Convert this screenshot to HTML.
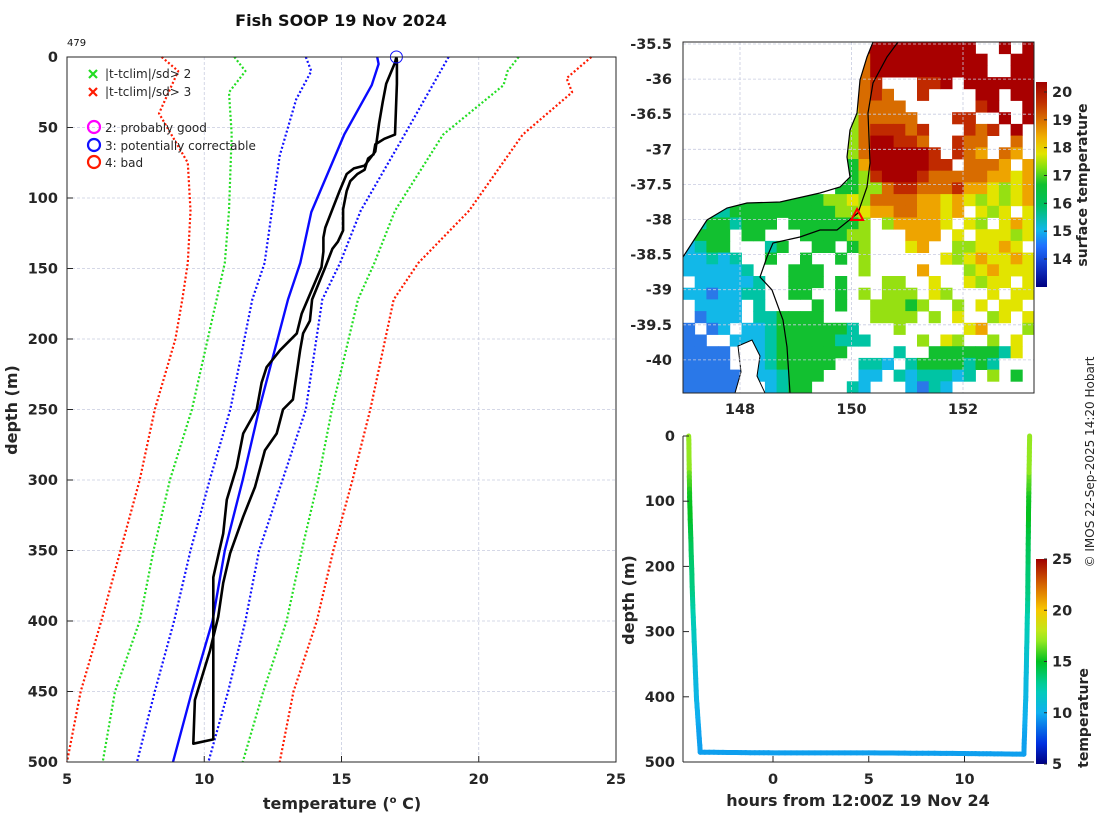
<!DOCTYPE html>
<html><head><meta charset="utf-8"><title>Fish SOOP 19 Nov 2024</title>
<style>
html,body{margin:0;padding:0;background:#fff;}
svg{display:block;font-family:"DejaVu Sans","Liberation Sans",sans-serif;}
.tk{font-size:14.5px;font-weight:bold;fill:#262626;}
.lab{font-size:16px;font-weight:bold;fill:#262626;}
.leg{font-size:12px;fill:#262626;}
</style></head>
<body>
<svg id="fig" width="1100" height="820" viewBox="0 0 1100 820">
<text x="341" y="26" text-anchor="middle" style="font-size:16px;font-weight:bold;fill:#111">Fish SOOP 19 Nov 2024</text>
<text x="67" y="46" style="font-size:10px;fill:#111">479</text>
<g id="main"></g>
<g id="map"></g>
<g id="track"></g>
<text transform="translate(1094,462) rotate(-90)" text-anchor="middle" style="font-size:12px;fill:#262626">© IMOS 22-Sep-2025 14:20 Hobart</text>
</svg>
<script>
// ---------- Profile data ----------
const climDepth = [0,5,20,55,110,146,172,250,300,350,400,450,500];
const climMean  = [16.3,16.35,16.1,15.1,13.9,13.5,13.05,12.0,11.4,10.75,10.3,9.55,8.86];
const sd1LoDepth = [0,10,30,70,146,172,250,300,350,400,450,500];
const sd1LoTemp  = [13.7,13.9,13.35,12.75,12.2,11.75,10.95,10.2,9.5,8.9,8.2,7.55];
const sd1HiDepth = [0,55,109,146,172,250,300,350,400,450,500];
const sd1HiTemp  = [18.9,17.3,15.7,14.95,14.3,13.7,12.85,12.0,11.5,10.87,10.15];
const sd2LoDepth = [0,10,25,55,109,146,172,250,300,350,400,450,500];
const sd2LoTemp  = [11.1,11.5,10.9,11.0,10.9,10.75,10.45,9.55,8.75,8.15,7.65,6.75,6.3];
const sd2HiDepth = [0,10,20,55,109,146,172,250,300,350,400,450,500];
const sd2HiTemp  = [21.45,21.05,20.9,18.7,16.95,16.2,15.6,14.65,14.15,13.55,13.0,12.15,11.4];
const sd3LoDepth = [0,10,40,75,109,146,172,200,250,300,350,400,450,500];
const sd3LoTemp  = [8.45,9.05,8.35,9.4,9.5,9.4,9.2,8.95,8.2,7.65,6.95,6.25,5.5,5.0];
const sd3HiDepth = [0,15,25,55,109,146,172,250,300,350,400,450,500];
const sd3HiTemp  = [24.1,23.2,23.4,21.6,19.65,17.8,16.9,16.05,15.4,14.7,14.1,13.25,12.75];
const obsADepth = [0,2.5,19,55,58,62,69,72,80,83,88,95,108,123,131,136,149,172,187,196,208,243,250,267,279,305,326,352,373,397,421,444,456,487];
const obsATemp  = [17.0,17.02,17.02,16.95,16.56,16.23,16.17,15.97,15.84,15.58,15.32,15.19,15.06,15.06,14.87,14.67,14.41,13.93,13.85,13.6,13.49,13.23,12.87,12.64,12.21,11.85,11.42,10.94,10.69,10.51,10.21,9.85,9.66,9.6];
const obsBDepth = [0,4,19,32,47,57,67,72,77,79,83,95,108,121,128,138,149,182,196,208,220,231,250,267,291,314,338,369,432,480,484];
const obsBTemp  = [17.0,16.95,16.63,16.5,16.37,16.3,16.23,16.04,15.84,15.45,15.19,14.93,14.67,14.41,14.34,14.34,14.27,13.55,13.37,12.76,12.27,12.09,11.91,11.42,11.18,10.82,10.69,10.33,10.33,10.33,10.33];
const tempTicks = [5,10,15,20,25];
const depthTicks = [0,50,100,150,200,250,300,350,400,450,500];

// ---------- Map data ----------
const mapRows = [
"...............DDDDDDDDDDWWDWD",
"...............ODDDDDDDDDDWWDD",
"..............AODDDDDDDDDDWWDD",
"..............AORWWWRRDWDDDDDD",
"..............AOROWWRWWWWDDWDD",
"..............YOOOOWWWWWWRDWWD",
"..............LOOOOOWWWRRWWDWD",
"..............LORRRORWWWRORWDW",
"..............LODDRROWWROOWWOW",
"..............LODDDDDRWROAWOAW",
"..............GADDDDDRRWOOOAWA",
"..............GLRDDDROOOOOAAYA",
".............GGLLORROOORAAYLYA",
"....GGGGGGGGLLYLOOOOAAYAYLYLYA",
"..TTGGGGGGGGGLLYAAOOAAYAWYLYWY",
".TGGTGGGWGGGGGGLWLAAAAYWYLWYAY",
"TGGGWGGWWWGGGGLLWWWAAAWYWYYYLY",
"CTGGWWWTGWWGGWGLWWWYAWWLLYYAYW",
"CCTCTWWGWWGWWGWLWWWWWWYLYAYYAY",
"CCCCCTWWWGGGWWWLWWWWAWWWLYAYYY",
"WCCCCCTWWGGGWGWWWLLWWYWWYLYYWY",
"CCBCCTTWWGGWWGWLWLLLWYLWWWYWYY",
"WCCCCWTWWWWGWGWWLLLGLWWLWYWYYW",
"WBCCCWTTGGGGWWWWLLLLWLWYWWLYWY",
"BWBCWCCTGGGGGGTWWWLWWWWWYAWWWL",
"BBWWCCCTGGGGGTTTWWWWLWYLWWLWYW",
"BBBB.CCTGGGGGGWWWWTWWGGGGGGTYW",
"BBBB..CTGGGGGWWTTCWTGGGGTGTWWW",
"BBBBB.CCTGGGWWWCCWTCTTTCTWLWGW",
"BBBBB..CTGGWWWTCWWWCBTCWWWWWWW"];
const lonTicks = [148,150,152];
const latTicks = [-35.5,-36,-36.5,-37,-37.5,-38,-38.5,-39,-39.5,-40];
const sstTicks = [20,19,18,17,16,15,14];
const shipLon = 150.1, shipLat = -37.95;

// ---------- Depth-time trace data ----------
const trHours  = [-4.4,-4.35,-4.2,-4.0,-3.8,0,5,10,13.1,13.2,13.3,13.35,13.4];
const trDepths = [0,100,250,400,485,486,486,487,488,400,250,100,0];
const hourTicks = [0,5,10];
const trDepthTicks = [0,100,200,300,400,500];
const cbTicks = [5,10,15,20,25];

const NS="http://www.w3.org/2000/svg";
function mk(parent,tag,attrs,text){const e=document.createElementNS(NS,tag);for(const k in attrs)e.setAttribute(k,attrs[k]);if(text!==undefined)e.textContent=text;parent.appendChild(e);return e;}
const cmStops=[[0,[0,0,128]],[0.1,[0,48,224]],[0.25,[16,176,240]],[0.37,[0,208,176]],[0.5,[0,192,32]],[0.62,[176,240,32]],[0.75,[248,200,0]],[0.87,[216,104,0]],[1,[160,0,0]]];
function cmap(v,lo,hi){let t=(v-lo)/(hi-lo);t=Math.max(0,Math.min(1,t));
for(let i=1;i<cmStops.length;i++){if(t<=cmStops[i][0]){const a=cmStops[i-1],b=cmStops[i];const f=(t-a[0])/(b[0]-a[0]);
const c=a[1].map((x,k)=>Math.round(x+f*(b[1][k]-x)));return `rgb(${c[0]},${c[1]},${c[2]})`;}}return 'rgb(160,0,0)';}

// ===== Main profile axes =====
const M=document.getElementById('main');
const xT=t=>67+(t-5)*27.45, yD=d=>57+d*1.41;
tempTicks.forEach(t=>{if(t>5&&t<25){const l=mk(M,'line',{x1:xT(t),x2:xT(t),y1:57,y2:762,stroke:'#c8cce0','stroke-width':0.8,'stroke-dasharray':'3,2'});

}});
depthTicks.forEach(d=>{if(d>0&&d<500){const l=mk(M,'line',{x1:67,x2:616,y1:yD(d),y2:yD(d),stroke:'#c8cce0','stroke-width':0.8,'stroke-dasharray':'3,2'});

}});
function line(ds,ts,color,dotted,name,w){const pts=ds.map((d,i)=>xT(ts[i]).toFixed(1)+','+yD(d).toFixed(1)).join(' ');
const p=mk(M,'polyline',{points:pts,fill:'none',stroke:color,'stroke-width':w||2.2,'stroke-dasharray':dotted?'2,2.2':'none','stroke-linejoin':'round'});

}
line(sd3LoDepth,sd3LoTemp,'#ff1a00',true,'clim-3sd-lower');
line(sd3HiDepth,sd3HiTemp,'#ff1a00',true,'clim-3sd-upper');
line(sd2LoDepth,sd2LoTemp,'#22dd22',true,'clim-2sd-lower');
line(sd2HiDepth,sd2HiTemp,'#22dd22',true,'clim-2sd-upper');
line(sd1LoDepth,sd1LoTemp,'#1010ff',true,'clim-1sd-lower');
line(sd1HiDepth,sd1HiTemp,'#1010ff',true,'clim-1sd-upper');
line(climDepth,climMean,'#0a0aff',false,'clim-mean',2.4);
{const ptsA=obsADepth.map((d,i)=>xT(obsATemp[i]).toFixed(1)+','+yD(d).toFixed(1));
const ptsB=obsBDepth.map((d,i)=>xT(obsBTemp[i]).toFixed(1)+','+yD(d).toFixed(1)).reverse();
const p=mk(M,'polyline',{points:ptsA.concat(ptsB).join(' '),fill:'none',stroke:'#000','stroke-width':2.6,'stroke-linejoin':'round'});

}
{const c=mk(M,'circle',{cx:xT(obsATemp[0]),cy:yD(0),r:6,fill:'none',stroke:'#1010ff','stroke-width':1});

}
{const b=mk(M,'rect',{x:67,y:57,width:549,height:705,fill:'none',stroke:'#262626','stroke-width':1});

}
tempTicks.forEach(t=>{mk(M,'line',{x1:xT(t),x2:xT(t),y1:762,y2:756,stroke:'#262626'});
const tx=mk(M,'text',{x:xT(t),y:784,'text-anchor':'middle',class:'tk'},String(t));

});
depthTicks.forEach(d=>{mk(M,'line',{x1:67,x2:73,y1:yD(d),y2:yD(d),stroke:'#262626'});
const tx=mk(M,'text',{x:58,y:yD(d)+5,'text-anchor':'end',class:'tk'},String(d));

});
{const t=mk(M,'text',{x:342,y:809,'text-anchor':'middle',class:'lab'});


t.innerHTML='temperature (<tspan dy="-6" font-size="10">o</tspan><tspan dy="6"> C)</tspan>';}
{const t=mk(M,'text',{transform:'translate(17,410) rotate(-90)','text-anchor':'middle',class:'lab'},'depth (m)');

}
// legend
const legG=mk(M,'g',{});


[['#22dd22',74,'|t-tclim|/sd> 2'],['#ff1a00',92,'|t-tclim|/sd> 3']].forEach(([c,y,s])=>{
mk(legG,'path',{d:`M89 ${y-4}l8 8M97 ${y-4}l-8 8`,stroke:c,'stroke-width':2.2});
const t=mk(legG,'text',{x:105,y:y+4,class:'leg'},s);

});
[['#ff00ff',127,'2: probably good'],['#1010ff',145,'3: potentially correctable'],['#ff1a00',162,'4: bad']].forEach(([c,y,s])=>{
mk(legG,'circle',{cx:94,cy:y,r:6,fill:'none',stroke:c,'stroke-width':2.2});
const t=mk(legG,'text',{x:105,y:y+5,class:'leg'},s);

});

// ===== Map =====
const G=document.getElementById('map');
const MX0=683,MX1=1034,MY0=42,MY1=393;
const xL=lon=>740+(lon-148)*55.75, yL=lat=>44+(-35.5-lat)*70.2;
const codeCol={D:'#a80000',R:'#c02a00',O:'#d86c00',A:'#eea400',Y:'#e2e400',L:'#96e012',G:'#12c030',T:'#00c4a4',C:'#12b8e8',B:'#2a78e8'};
const cw=(MX1-MX0)/30, ch=(MY1-MY0)/30;
mapRows.forEach((row,j)=>{for(let i=0;i<row.length;i++){const c=codeCol[row[i]];if(!c)continue;
const r=mk(G,'rect',{x:(MX0+i*cw).toFixed(2),y:(MY0+j*ch).toFixed(2),width:(cw+0.4).toFixed(2),height:(ch+0.4).toFixed(2),fill:c});

}});
{const p=mk(G,'polygon',{points:'873,42 867,57 860,80 857,113 850,130 847,157 850,177 840,187 820,193 780,202 747,203 727,208 707,220 683,257 683,42',fill:'#fff'});

}
{const p=mk(G,'polygon',{points:'738,346 752,340 760,356 757,376 765,393 735,393 741,372',fill:'#fff',stroke:'#000','stroke-width':1});

}
lonTicks.forEach(l=>{mk(G,'line',{x1:xL(l),x2:xL(l),y1:MY0,y2:MY1,stroke:'#c8cce0','stroke-width':0.8,'stroke-dasharray':'3,2'});
const t=mk(G,'text',{x:xL(l),y:414,'text-anchor':'middle',class:'tk'},String(l));

});
latTicks.forEach(l=>{mk(G,'line',{x1:MX0,x2:MX1,y1:yL(l),y2:yL(l),stroke:'#c8cce0','stroke-width':0.8,'stroke-dasharray':'3,2'});
const t=mk(G,'text',{x:672,y:yL(l)+5,'text-anchor':'end',class:'tk'},String(l));

});
{const p=mk(G,'polyline',{points:'873,42 867,57 860,80 857,113 850,130 847,157 850,177 840,187 820,193 780,202 747,203 727,208 707,220 683,257',fill:'none',stroke:'#000','stroke-width':1.2});

}
{const p=mk(G,'polyline',{points:'898,42 887,57 873,83 868,113 870,163 867,187 858,213 837,230 820,230 800,237 773,243 767,257 760,277 772,290 783,320 787,347 790,393',fill:'none',stroke:'#000','stroke-width':1.2});

}
{const sx=xL(shipLon), sy=yL(shipLat);
const p=mk(G,'polygon',{points:`${sx},${sy-7} ${sx-6},${sy+4} ${sx+6},${sy+4}`,fill:'none',stroke:'#ff0000','stroke-width':2});

}
{const b=mk(G,'rect',{x:MX0,y:MY0,width:MX1-MX0,height:MY1-MY0,fill:'none',stroke:'#262626','stroke-width':1});

}
// map colorbar
const defs=mk(document.getElementById('fig'),'defs',{});
const g1=mk(defs,'linearGradient',{id:'sstgrad',x1:0,y1:1,x2:0,y2:0});
[[0,'#000080'],[0.09,'#1030c0'],[0.2,'#2070ff'],[0.28,'#10b8e8'],[0.4,'#00c060'],[0.5,'#10c030'],[0.58,'#80e010'],[0.65,'#e2e400'],[0.73,'#f0b000'],[0.82,'#d86c00'],[0.9,'#c03000'],[1,'#a00000']].forEach(([o,c])=>mk(g1,'stop',{offset:o,'stop-color':c}));
{const r=mk(G,'rect',{x:1036,y:82,width:11,height:205,fill:'url(#sstgrad)'});

}
const ySst=t=>92+(20-t)*27.83;
sstTicks.forEach(t=>{mk(G,'line',{x1:1044,x2:1047,y1:ySst(t),y2:ySst(t),stroke:'#262626'});
const tx=mk(G,'text',{x:1052,y:ySst(t)+5,class:'tk'},String(t));

});
{const t=mk(G,'text',{transform:'translate(1087,185) rotate(-90)','text-anchor':'middle',class:'lab','style':'font-size:14px'},'surface temperature');

}

// ===== Depth-time trace =====
const Tg=document.getElementById('track');
const xH=h=>773+h*19.15, yTD=d=>436+d*0.652;
function depthTemp(d){for(let i=1;i<obsADepth.length;i++){if(d<=obsADepth[i]){const f=(d-obsADepth[i-1])/(obsADepth[i]-obsADepth[i-1]);return obsATemp[i-1]+f*(obsATemp[i]-obsATemp[i-1]);}}return obsATemp[obsATemp.length-1];}
for(let i=1;i<trHours.length;i++){const n=16;for(let k=0;k<n;k++){const f0=k/n,f1=(k+1)/n;
const h0=trHours[i-1]+f0*(trHours[i]-trHours[i-1]),h1=trHours[i-1]+f1*(trHours[i]-trHours[i-1]);
const d0=trDepths[i-1]+f0*(trDepths[i]-trDepths[i-1]),d1=trDepths[i-1]+f1*(trDepths[i]-trDepths[i-1]);
const s=mk(Tg,'line',{x1:xH(h0).toFixed(1),y1:yTD(d0).toFixed(1),x2:xH(h1).toFixed(1),y2:yTD(d1).toFixed(1),stroke:cmap(depthTemp((d0+d1)/2),5,25),'stroke-width':5,'stroke-linecap':'round'});

}}
mk(Tg,'line',{x1:683,x2:683,y1:436,y2:762,stroke:'#262626'});
mk(Tg,'line',{x1:683,x2:1034,y1:762,y2:762,stroke:'#262626'});
hourTicks.forEach(h=>{mk(Tg,'line',{x1:xH(h),x2:xH(h),y1:762,y2:756,stroke:'#262626'});
const t=mk(Tg,'text',{x:xH(h),y:784,'text-anchor':'middle',class:'tk'},String(h));

});
trDepthTicks.forEach(d=>{mk(Tg,'line',{x1:683,x2:689,y1:yTD(d),y2:yTD(d),stroke:'#262626'});
const t=mk(Tg,'text',{x:675,y:yTD(d)+5,'text-anchor':'end',class:'tk'},String(d));

});
{const t=mk(Tg,'text',{x:858,y:806,'text-anchor':'middle',class:'lab'},'hours from 12:00Z 19 Nov 24');

}
{const t=mk(Tg,'text',{transform:'translate(634,600) rotate(-90)','text-anchor':'middle',class:'lab'},'depth (m)');

}
const g2=mk(defs,'linearGradient',{id:'jetgrad',x1:0,y1:1,x2:0,y2:0});
for(let k=0;k<=20;k++){mk(g2,'stop',{offset:k/20,'stop-color':cmap(5+k,5,25)});}
{const r=mk(Tg,'rect',{x:1036,y:559,width:11,height:205,fill:'url(#jetgrad)'});

}
const yCb=t=>764-(t-5)*10.25;
cbTicks.forEach(t=>{mk(Tg,'line',{x1:1044,x2:1047,y1:yCb(t),y2:yCb(t),stroke:'#262626'});
const tx=mk(Tg,'text',{x:1052,y:yCb(t)+5,class:'tk'},String(t));

});
{const t=mk(Tg,'text',{transform:'translate(1088,718) rotate(-90)','text-anchor':'middle',class:'lab','style':'font-size:14px'},'temperature');

}
</script>
</body></html>
